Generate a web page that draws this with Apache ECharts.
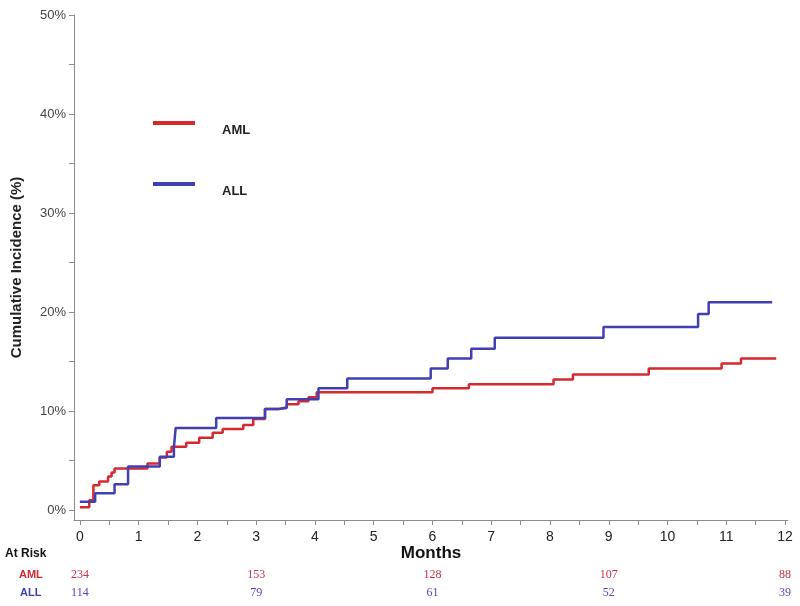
<!DOCTYPE html>
<html>
<head>
<meta charset="utf-8">
<script src="https://cdn.jsdelivr.net/npm/echarts@6/dist/echarts.min.js"></script>
<style>
html,body{margin:0;padding:0;background:#fff;}
#chart{width:800px;height:606px;}
</style>
</head>
<body>
<div id="chart"></div>
<script>
// ---- Data ----
const amlTime  = [0, 0.16, 0.23, 0.33, 0.48, 0.54, 0.59, 1.15, 1.36, 1.48, 1.56, 1.81, 2.03, 2.26, 2.43, 2.78, 2.95, 3.15, 3.38, 3.52, 3.72, 3.89, 4.03, 6.0, 6.62, 8.06, 8.39, 9.68, 10.92, 11.25, 11.85];
const amlValue = [0.3, 1.0, 2.5, 2.9, 3.4, 3.8, 4.2, 4.7, 5.3, 5.9, 6.4, 6.8, 7.3, 7.8, 8.2, 8.6, 9.2, 10.2, 10.4, 10.7, 11.0, 11.4, 11.9, 12.3, 12.7, 13.2, 13.7, 14.3, 14.8, 15.3, 15.3];
const allTime  = [0, 0.26, 0.59, 0.82, 1.36, 1.6, 1.63, 2.32, 3.15, 3.38, 3.52, 4.06, 4.55, 5.97, 6.26, 6.66, 7.06, 8.91, 10.52, 10.70, 11.78];
const allValue = [0.85, 1.7, 2.6, 4.4, 5.4, 6.3, 8.3, 9.3, 10.2, 10.3, 11.2, 12.3, 13.3, 14.3, 15.3, 16.3, 17.4, 18.5, 19.8, 21.0, 21.0];

const monthTicks = [0,1,2,3,4,5,6,7,8,9,10,11,12];
const monthMinorTicks = [0,0.5,1,1.5,2,2.5,3,3.5,4,4.5,5,5.5,6,6.5,7,7.5,8,8.5,9,9.5,10,10.5,11,11.5,12];
const pctTicks = [0,10,20,30,40,50];
const pctMinorTicks = [0,5,10,15,20,25,30,35,40,45,50];

const riskTimes = [0,3,6,9,12];
const riskAML = [234,153,128,107,88];
const riskALL = [114,79,61,52,39];

const RED = '#d42a2e';
const BLUE = '#4040b4';

const chart = echarts.init(document.getElementById('chart'));

function riskAxis(offset, values, color) {
  return {
    type: 'value', gridIndex: 0, position: 'bottom', offset: offset,
    min: -0.1, max: 12.05,
    axisLine: {show: false, onZero: false}, axisTick: {show: false}, splitLine: {show: false},
    axisLabel: {
      customValues: riskTimes, margin: 7,
      fontFamily: 'Liberation Serif', fontSize: 12, color: color,
      formatter: function (v) { const i = riskTimes.indexOf(Math.round(v)); return i >= 0 ? String(values[i]) : ''; }
    }
  };
}

const legendText = {fontFamily: 'Liberation Sans', fontWeight: 'bold', fontSize: 13, lineHeight: 14, color: '#222', padding: [0, 0, 0, 22]};

const option = {
  backgroundColor: '#fff',
  animation: false,
  grid: {left: 74, right: 12, top: 15, bottom: 86, containLabel: false},
  legend: [
    {data: ['AML'], left: 148, top: 104, icon: 'rect', itemWidth: 42, itemHeight: 4,
     formatter: '\n{name}', textStyle: legendText},
    {data: ['ALL'], left: 148, top: 165, icon: 'rect', itemWidth: 42, itemHeight: 4,
     formatter: '\n{name}', textStyle: legendText}
  ],
  xAxis: [
    {
      type: 'value', min: -0.1, max: 12.05,
      name: 'Months', nameLocation: 'middle', nameGap: 25, nameMoveOverlap: false,
      nameTextStyle: {fontFamily: 'Liberation Sans', fontWeight: 'bold', fontSize: 17, color: '#111'},
      axisLine: {show: true, onZero: false, lineStyle: {color: '#8c8c8c', width: 1}},
      axisTick: {show: true, customValues: monthMinorTicks, length: 5, lineStyle: {color: '#8c8c8c'}},
      axisLabel: {customValues: monthTicks, margin: 10, fontFamily: 'Liberation Sans Narrow, Liberation Sans', fontSize: 14, color: '#222'},
      splitLine: {show: false}
    },
    riskAxis(42, riskAML, '#c8304a'),
    riskAxis(60, riskALL, '#5a3fc0')
  ],
  yAxis: {
    type: 'value', min: -1, max: 50,
    name: 'Cumulative Incidence (%)', nameLocation: 'middle', nameGap: 50,
    nameTextStyle: {fontFamily: 'Liberation Sans', fontWeight: 'bold', fontSize: 15, color: '#222'},
    axisLine: {show: true, onZero: false, lineStyle: {color: '#8c8c8c', width: 1}},
    axisTick: {show: true, customValues: pctMinorTicks, length: 5, lineStyle: {color: '#8c8c8c'}},
    axisLabel: {customValues: pctTicks, margin: 8, fontFamily: 'Liberation Sans', fontSize: 13, color: '#444', formatter: '{value}%'},
    splitLine: {show: false}
  },
  graphic: [
    {type: 'text', left: 5, top: 548, style: {text: 'At Risk', fontFamily: 'Liberation Sans', fontWeight: 'bold', fontSize: 12, fill: '#111'}},
    {type: 'text', left: 19, top: 569, style: {text: 'AML', fontFamily: 'Liberation Sans', fontWeight: 'bold', fontSize: 11, fill: RED}},
    {type: 'text', left: 20, top: 587, style: {text: 'ALL', fontFamily: 'Liberation Sans', fontWeight: 'bold', fontSize: 11, fill: BLUE}}
  ],
  series: [
    {name: 'AML', type: 'line', step: 'end', showSymbol: false, color: RED,
     lineStyle: {width: 2.5, color: RED},
     data: amlTime.map((t, i) => [t, amlValue[i]])},
    {name: 'ALL', type: 'line', step: 'end', showSymbol: false, color: BLUE,
     lineStyle: {width: 2.5, color: BLUE},
     data: allTime.map((t, i) => [t, allValue[i]])}
  ]
};
chart.setOption(option);
</script>
</body>
</html>
